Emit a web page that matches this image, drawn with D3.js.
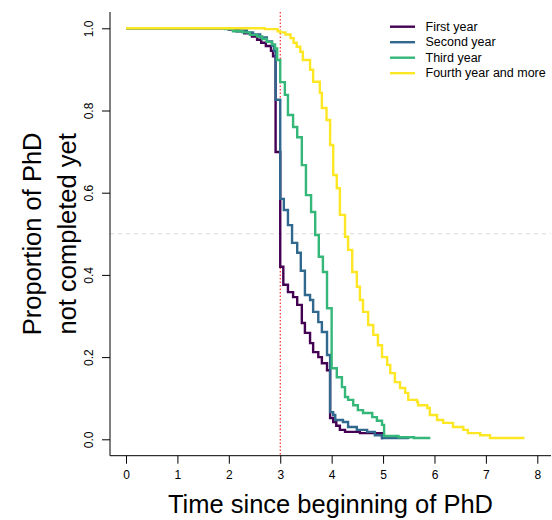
<!DOCTYPE html>
<html>
<head>
<meta charset="utf-8">
<script src="https://cdn.jsdelivr.net/npm/d3@7"></script>
<style>
  html, body { margin: 0; padding: 0; background: #fff; }
  svg { display: block; font-family: "Liberation Sans", Arial, Helvetica, sans-serif; }
</style>
</head>
<body>
<svg id="chart" width="552" height="520"></svg>
<script>
// ---- data (time in years, proportion not completed) ----
const seriesNames = ["First year", "Second year", "Third year", "Fourth year and more"];
const seriesColors = ["#440154", "#31688E", "#35B779", "#FDE725"];

const firstYear = [
  [0,1],[2.0,0.997],[2.15,0.993],[2.3,0.988],[2.45,0.98],[2.55,0.972],[2.63,0.965],
  [2.72,0.957],[2.82,0.945],[2.86,0.932],[2.91,0.699],[3.0,0.42],[3.06,0.376],[3.15,0.358],
  [3.25,0.346],[3.33,0.327],[3.42,0.283],[3.48,0.259],[3.58,0.234],[3.64,0.212],[3.74,0.2],
  [3.81,0.185],[3.91,0.168],[3.97,0.052],[4.03,0.042],[4.09,0.033],[4.16,0.023],[4.26,0.018],
  [4.55,0.015],[4.98,0.001],[4.98,0]
];
const secondYear = [
  [0,1],[2.0,0.998],[2.2,0.995],[2.35,0.99],[2.47,0.985],[2.61,0.978],[2.74,0.968],[2.84,0.958],
  [2.88,0.945],[2.91,0.826],[3.0,0.585],[3.07,0.558],[3.15,0.521],[3.23,0.478],[3.33,0.454],
  [3.4,0.41],[3.48,0.351],[3.58,0.339],[3.64,0.31],[3.74,0.285],[3.81,0.261],[3.91,0.205],
  [3.97,0.066],[4.03,0.059],[4.07,0.047],[4.22,0.042],[4.32,0.03],[4.49,0.023],[4.69,0.018],
  [4.84,0.01],[4.98,0.003],[5.5,0.002]
];
const thirdYear = [
  [0,1],[1.93,0.998],[2.08,0.993],[2.27,0.99],[2.41,0.984],[2.55,0.98],[2.65,0.974],[2.74,0.967],
  [2.84,0.961],[2.9,0.951],[2.94,0.923],[3.0,0.869],[3.09,0.838],[3.15,0.789],[3.25,0.76],
  [3.33,0.735],[3.42,0.667],[3.5,0.594],[3.6,0.553],[3.68,0.497],[3.75,0.444],[3.83,0.407],
  [3.91,0.319],[4.0,0.173],[4.1,0.151],[4.2,0.127],[4.26,0.103],[4.32,0.096],[4.42,0.083],
  [4.51,0.071],[4.61,0.064],[4.79,0.054],[4.88,0.045],[4.98,0.035],[5.02,0.008],[5.3,0.005],
  [5.6,0.003],[5.92,0.003]
];
const fourthYear = [
  [0,1],[2.7,0.998],[2.95,0.993],[3.0,0.99],[3.1,0.985],[3.2,0.976],[3.26,0.965],[3.32,0.955],
  [3.39,0.943],[3.44,0.923],[3.58,0.899],[3.64,0.87],[3.77,0.843],[3.81,0.806],[3.9,0.777],
  [3.97,0.716],[4.03,0.643],[4.1,0.611],[4.16,0.546],[4.26,0.493],[4.32,0.461],[4.4,0.407],
  [4.49,0.371],[4.55,0.339],[4.61,0.31],[4.71,0.278],[4.81,0.254],[4.9,0.229],[4.98,0.2],
  [5.08,0.181],[5.14,0.161],[5.23,0.139],[5.33,0.125],[5.43,0.113],[5.49,0.096],[5.66,0.091],
  [5.68,0.083],[5.86,0.076],[5.91,0.059],[6.05,0.047],[6.17,0.04],[6.36,0.03],[6.56,0.023],
  [6.65,0.015],[6.89,0.01],[7.08,0.003],[7.75,0.003]
];
const allSeries = [firstYear, secondYear, thirdYear, fourthYear];

const xTicks = [0,1,2,3,4,5,6,7,8];
const yTicks = [0,0.2,0.4,0.6,0.8,1.0];
const yTickLabels = ["0.0","0.2","0.4","0.6","0.8","1.0"];
const xTitle = "Time since beginning of PhD";
const yTitleLines = ["Proportion of PhD", "not completed yet"];
const refTime = 3;
const refProp = 0.5;

// ---- layout ----
const svg = d3.select("#chart");
const x = d3.scaleLinear().domain([0, 8]).range([126, 537.3]);
const y = d3.scaleLinear().domain([0, 1]).range([439.3, 28.3]);
const plot = { left: 110, right: 551, top: 12, bottom: 455.7 };

// reference lines
svg.append("line")
  .attr("x1", plot.left).attr("x2", plot.right)
  .attr("y1", y(refProp)).attr("y2", y(refProp))
  .attr("stroke", "#d9d9d9").attr("stroke-width", 1)
  .attr("stroke-dasharray", "4,4");
svg.append("line")
  .attr("x1", x(refTime)).attr("x2", x(refTime))
  .attr("y1", plot.top).attr("y2", plot.bottom)
  .attr("stroke", "#ff0000").attr("stroke-width", 1)
  .attr("stroke-dasharray", "1.5,2");

// curves
const line = d3.line().x(d => x(d[0])).y(d => y(d[1])).curve(d3.curveStepAfter);
allSeries.forEach((s, i) => {
  svg.append("path")
    .attr("d", line(s))
    .attr("fill", "none")
    .attr("stroke", seriesColors[i])
    .attr("stroke-width", 2.4)
    .attr("stroke-linejoin", "miter")
    .attr("stroke-linecap", "butt");
});

// axes (L-shaped box)
svg.append("path")
  .attr("d", `M${plot.left},${plot.top}V${plot.bottom}H${plot.right}`)
  .attr("fill", "none").attr("stroke", "#000").attr("stroke-width", 1);

const xAxis = d3.axisBottom(x).tickValues(xTicks).tickSize(8).tickPadding(7).tickFormat(d3.format("d"));
const gx = svg.append("g").attr("transform", `translate(0,${plot.bottom})`).call(xAxis);
gx.select(".domain").remove();
gx.selectAll("text").attr("font-size", 12).attr("font-family", null).attr("fill", "#000");
gx.selectAll("line").attr("stroke", "#000");

const yAxis = d3.axisLeft(y).tickValues(yTicks).tickSize(8).tickFormat((d, i) => yTickLabels[i]);
const gy = svg.append("g").attr("transform", `translate(${plot.left},0)`).call(yAxis);
gy.select(".domain").remove();
gy.selectAll("line").attr("stroke", "#000");
gy.selectAll(".tick text")
  .attr("font-size", 12).attr("font-family", null).attr("fill", "#000")
  .attr("x", null).attr("dy", null).attr("y", 0)
  .attr("text-anchor", "middle")
  .attr("dominant-baseline", "central")
  .attr("transform", "translate(-21,0) rotate(-90)");

// axis titles
svg.append("text")
  .attr("x", (plot.left + plot.right) / 2).attr("y", 513)
  .attr("text-anchor", "middle").attr("font-size", 25.5).attr("fill", "#000")
  .text(xTitle);
const yMid = (plot.top + plot.bottom) / 2;
[32, 67].forEach((cx, i) => {
  svg.append("text")
    .attr("transform", `translate(${cx},${yMid}) rotate(-90)`)
    .attr("text-anchor", "middle").attr("dominant-baseline", "central")
    .attr("font-size", 25.5).attr("fill", "#000")
    .text(yTitleLines[i]);
});

// legend
const legRows = [26.7, 42.2, 57.7, 73.2];
seriesNames.forEach((name, i) => {
  svg.append("line")
    .attr("x1", 390).attr("x2", 415)
    .attr("y1", legRows[i]).attr("y2", legRows[i])
    .attr("stroke", seriesColors[i]).attr("stroke-width", 2.4);
  svg.append("text")
    .attr("x", 425.5).attr("y", legRows[i])
    .attr("dominant-baseline", "central")
    .attr("font-size", 12.5).attr("fill", "#000")
    .text(name);
});
</script>
</body>
</html>
